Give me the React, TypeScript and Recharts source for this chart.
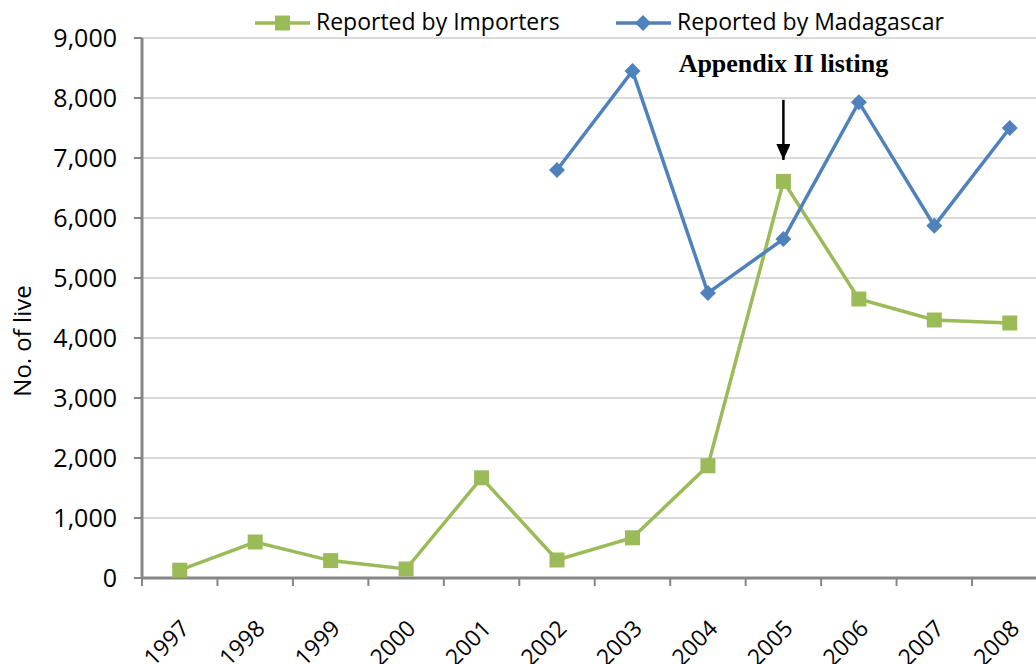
import React from "react";
import {
  LineChart,
  Line,
  XAxis,
  YAxis,
  CartesianGrid,
  ReferenceDot,
  ReferenceLine,
} from "recharts";

// --- Data ---
const years = ["1997", "1998", "1999", "2000", "2001", "2002", "2003", "2004", "2005", "2006", "2007", "2008"];
const importers = [130, 600, 290, 150, 1670, 300, 670, 1870, 6610, 4650, 4300, 4250];
const madagascar = [null, null, null, null, null, 6800, 8450, 4750, 5650, 7930, 5870, 7500];
const yTicks = [0, 1000, 2000, 3000, 4000, 5000, 6000, 7000, 8000, 9000];

const data = years.map((year, i) => ({
  year,
  importers: importers[i],
  madagascar: madagascar[i],
}));

const GREEN = "#9BBB59";
const BLUE = "#4F81BD";
const AXIS = "#868686";
const FONT = "'Open Sans', 'Noto Sans', sans-serif";

// plot spans 142..1047.5 (right edge is cropped by the picture)
const PLOT_W = 905.5;
const BAND = PLOT_W / years.length;

// square marker for the importers series
const SquareDot = (props: any) => {
  const { cx, cy } = props;
  if (cx == null || cy == null) return null;
  return <rect x={cx - 7.5} y={cy - 7.5} width={15} height={15} fill={GREEN} />;
};

// diamond marker for the Madagascar series
const DiamondDot = (props: any) => {
  const { cx, cy, value } = props;
  if (cx == null || cy == null || value == null) return null;
  const r = 8;
  return (
    <path
      d={`M${cx},${cy - r} L${cx + r},${cy} L${cx},${cy + r} L${cx - r},${cy} Z`}
      fill={BLUE}
    />
  );
};

// tick label plus the tick mark at the left band boundary (Excel style)
const YearTick = (props: any) => {
  const { x, y, payload, index } = props;
  const tx = x + 11;
  const ty = y + 52;
  const left = x - BAND / 2;
  return (
    <g>
      <line x1={left} y1={y} x2={left} y2={y + 8} stroke={AXIS} strokeWidth={2} />
      {index === years.length - 1 && (
        <line x1={x + BAND / 2} y1={y} x2={x + BAND / 2} y2={y + 8} stroke={AXIS} strokeWidth={2} />
      )}
      <text
        x={tx}
        y={ty}
        transform={`rotate(-45, ${tx}, ${ty})`}
        textAnchor="end"
        fontFamily={FONT}
        fontSize={23}
        fill="#000"
      >
        {payload.value}
      </text>
    </g>
  );
};

const legendText: React.CSSProperties = {
  position: "absolute",
  top: 5,
  whiteSpace: "nowrap",
  fontFamily: FONT,
  fontSize: 23,
  color: "#000",
  lineHeight: "32px",
};

export default function App() {
  return (
    <div
      style={{
        position: "absolute",
        left: 0,
        top: 0,
        width: 1036,
        height: 664,
        overflow: "hidden",
        background: "#fff",
      }}
    >
      <LineChart
        width={1060}
        height={664}
        data={data}
        margin={{ top: 38, right: 1060 - 142 - PLOT_W, left: 0, bottom: 0 }}
      >
        <defs>
          <marker
            id="arrowHead"
            markerUnits="userSpaceOnUse"
            markerWidth="16"
            markerHeight="14"
            refX="16"
            refY="7"
            orient="auto"
          >
            <path d="M0,0 L16,7 L0,14 Z" fill="#000" />
          </marker>
        </defs>
        <CartesianGrid vertical={false} stroke="#D9D9D9" strokeWidth={2} />
        <XAxis
          dataKey="year"
          height={86}
          stroke={AXIS}
          strokeWidth={3}
          tickLine={false}
          tickSize={0}
          tickMargin={0}
          interval={0}
          padding={{ left: BAND / 2, right: BAND / 2 }}
          tick={<YearTick />}
        />
        <YAxis
          width={142}
          domain={[0, 9000]}
          ticks={yTicks}
          stroke={AXIS}
          strokeWidth={3}
          tickLine={{ stroke: AXIS, strokeWidth: 2 }}
          tickSize={8}
          tickMargin={17}
          tickFormatter={(v: number) => v.toLocaleString("en-US")}
          tick={{ fill: "#000", fontSize: 25, fontFamily: FONT }}
          label={{
            content: () => (
              <text
                x={31}
                y={341}
                transform="rotate(-90, 31, 341)"
                textAnchor="middle"
                fontFamily={FONT}
                fontSize={24}
                fill="#000"
              >
                No. of live
              </text>
            ),
          }}
        />
        <Line
          dataKey="importers"
          name="Reported by Importers"
          stroke={GREEN}
          strokeWidth={3.5}
          dot={<SquareDot />}
          activeDot={false}
          isAnimationActive={false}
          type="linear"
        />
        <Line
          dataKey="madagascar"
          name="Reported by Madagascar"
          stroke={BLUE}
          strokeWidth={3.5}
          dot={<DiamondDot />}
          activeDot={false}
          isAnimationActive={false}
          type="linear"
        />
        <ReferenceLine
          segment={[
            { x: "2005", y: 7970 },
            { x: "2005", y: 6967 },
          ]}
          stroke="#000"
          strokeWidth={2.5}
          markerEnd="url(#arrowHead)"
        />
        <ReferenceDot
          x="2005"
          y={8580}
          r={0}
          fill="none"
          stroke="none"
          label={{
            value: "Appendix II listing",
            position: "center",
            style: {
              fill: "#000",
              fontSize: 26,
              fontWeight: "bold",
              fontFamily: "'Liberation Serif', 'DejaVu Serif', serif",
            },
          }}
        />
      </LineChart>

      {/* legend */}
      <svg width={60} height={20} style={{ position: "absolute", left: 253, top: 13 }}>
        <line x1={2} y1={10} x2={57} y2={10} stroke={GREEN} strokeWidth={3.5} />
        <rect x={22} y={2.5} width={15} height={15} fill={GREEN} />
      </svg>
      <span style={{ ...legendText, left: 316 }}>Reported by Importers</span>
      <svg width={60} height={20} style={{ position: "absolute", left: 614, top: 13 }}>
        <line x1={2} y1={10} x2={57} y2={10} stroke={BLUE} strokeWidth={3.5} />
        <path d="M29,2 L37,10 L29,18 L21,10 Z" fill={BLUE} />
      </svg>
      <span style={{ ...legendText, left: 677 }}>Reported by Madagascar</span>
    </div>
  );
}
